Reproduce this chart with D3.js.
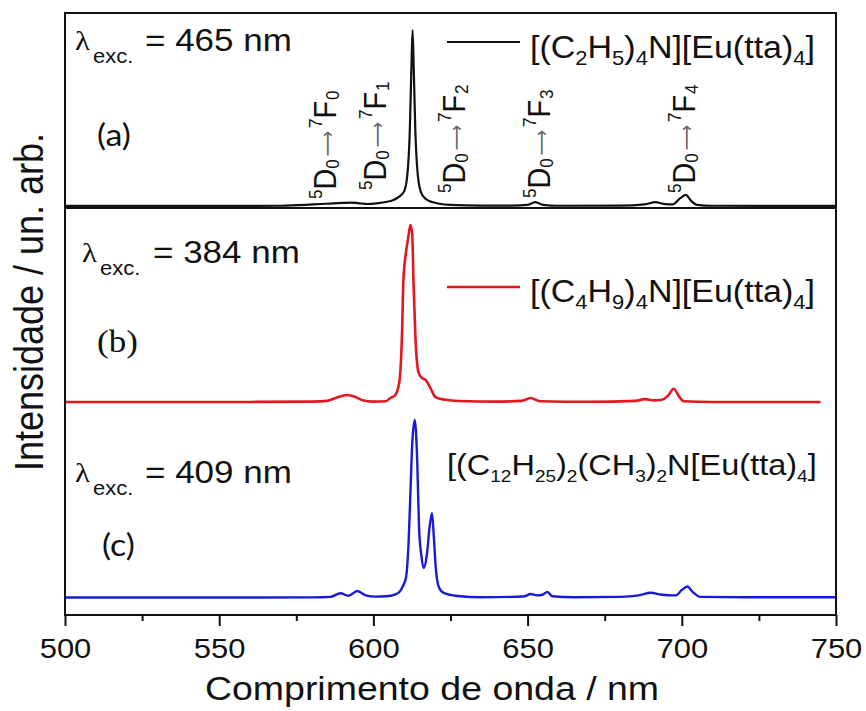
<!DOCTYPE html>
<html>
<head>
<meta charset="utf-8">
<script src="https://cdn.jsdelivr.net/npm/d3@7"></script>
<style>
  body { margin: 0; background: #fff; }
  svg text { font-family: "Liberation Sans", Arial, sans-serif; fill: #111; }
</style>
</head>
<body>
<svg id="chart" width="866" height="711"></svg>
<script>
// Emission spectra of three Eu(tta)4 complexes (normalised intensity vs wavelength)
const wlA  = [500,520,540,560,570,578,583,587,590,592.5,595,598,601,604,606.5,608.5,610,611,611.8,612.3,612.7,613.1,613.6,614.4,615.5,617,619,621,625,635,645,650,652.5,655,660,680,688,691.5,694,697,699.5,701.3,703,705,710,730,750];
const intA = [.006,.006,.006,.006,.007,.012,.017,.02,.023,.025,.022,.017,.02,.028,.04,.06,.09,.18,.43,.77,1.0,.77,.43,.18,.08,.045,.028,.02,.012,.008,.008,.012,.028,.012,.007,.008,.015,.028,.018,.015,.05,.068,.035,.012,.007,.006,.006];

const wlB  = [500,540,560,580,585,588,591.5,594,596.5,600,604,605.5,607.1,608.4,609.3,609.7,610.6,611.3,612.0,612.6,613.0,613.6,614.6,615.8,616.9,618.5,620.1,622,624,628,640,648,651,654,670,685,688,691,693.2,695.5,697.4,699,700.6,710,745];
const intB = [.006,.006,.006,.008,.012,.03,.045,.035,.015,.008,.01,.028,.045,.118,.40,.68,.85,.93,1.0,.944,.68,.38,.174,.14,.13,.084,.034,.022,.017,.011,.008,.012,.028,.01,.007,.012,.022,.015,.017,.04,.08,.04,.01,.006,.006];

const wlC  = [500,540,560,580,586,589.3,591.9,594.8,597.5,600.6,604,607,608.5,609.5,610.6,611.4,612.0,612.6,613.4,614.2,614.8,615.6,616.3,617.4,618.2,619.0,619.6,620.2,621.2,622.8,627.2,635,645,649,651,653,655,656.4,658,665,680,686,690,693,698,700,701.8,703.5,706,720,750];
const intC = [.008,.008,.008,.009,.012,.032,.018,.045,.02,.013,.015,.025,.04,.07,.123,.313,.59,.87,1.0,.777,.40,.235,.173,.257,.40,.48,.346,.179,.067,.034,.017,.01,.012,.015,.028,.02,.025,.04,.015,.01,.012,.02,.035,.025,.02,.05,.07,.04,.012,.01,.01];

const xTicks = [500, 550, 600, 650, 700, 750];
const xMinorTicks = [525, 575, 625, 675, 725];
const excitation = ["465", "384", "409"];
const panelTags = ["(a)", "(b)", "(c)"];
const transitions = ["0", "1", "2", "3", "4"];

const svg = d3.select("#chart");
const SQ = 0.9; // lettering is slightly compressed vertically

const x = d3.scaleLinear().domain([500, 750]).range([65, 836]);
const yA = d3.scaleLinear().domain([0, 1]).range([207, 30]);
const yB = d3.scaleLinear().domain([0, 1]).range([403, 225]);
const yC = d3.scaleLinear().domain([0, 1]).range([599, 420]);

// rich text helper: parts = [{t, size, shift, fill, family, dx}]
function rich(px, py, parts, o = {}) {
  const t = svg.append("text")
    .attr("transform", `translate(${px},${py}) scale(1,${SQ}) rotate(${o.rot || 0})`)
    .attr("font-size", o.size || 30)
    .attr("text-anchor", o.anchor || "start");
  if (o.family) t.style("font-family", o.family);
  let prev = 0;
  parts.forEach(p => {
    const s = p.shift || 0;
    const ts = t.append("tspan").attr("dy", s - prev).text(p.t);
    if (p.size) ts.attr("font-size", p.size);
    if (p.fill) ts.style("fill", p.fill);
    if (p.family) ts.style("font-family", p.family);
    if (p.dx) ts.attr("dx", p.dx);
    prev = s;
  });
  return t;
}

// spectra
const series = [
  { wl: wlA, v: intA, y: yA, color: "#111", w: 2.2 },
  { wl: wlB, v: intB, y: yB, color: "#e4161e", w: 2.6 },
  { wl: wlC, v: intC, y: yC, color: "#1a1ad6", w: 2.4 }
];
series.forEach(s => {
  const pts = s.wl.map((w, i) => [w, s.v[i]]);
  const line = d3.line().x(d => x(d[0])).y(d => s.y(d[1])).curve(d3.curveMonotoneX);
  svg.append("path").attr("d", line(pts))
    .attr("fill", "none").attr("stroke", s.color).attr("stroke-width", s.w)
    .attr("stroke-linejoin", "round");
});

// frame and panel divider
svg.append("rect").attr("x", 65).attr("y", 13).attr("width", 771).attr("height", 602)
  .attr("fill", "none").attr("stroke", "#111").attr("stroke-width", 2);
svg.append("line").attr("x1", 65).attr("x2", 836).attr("y1", 208).attr("y2", 208)
  .attr("stroke", "#111").attr("stroke-width", 2);

// x axis
const gx = svg.append("g").attr("transform", "translate(0,615)")
  .call(d3.axisBottom(x).tickValues(xTicks).tickSize(11).tickFormat(d3.format("d")));
gx.select(".domain").remove();
gx.selectAll("line").attr("stroke", "#111").attr("stroke-width", 2);
gx.selectAll("text").attr("y", null).attr("dy", null)
  .attr("transform", `translate(0,43) scale(1,${SQ})`)
  .attr("font-size", 31).attr("fill", "#111")
  .style("font-family", "'Liberation Sans', Arial, sans-serif");
const gm = svg.append("g").attr("transform", "translate(0,615)")
  .call(d3.axisBottom(x).tickValues(xMinorTicks).tickSize(6).tickFormat(""));
gm.select(".domain").remove();
gm.selectAll("line").attr("stroke", "#111").attr("stroke-width", 2);

// axis titles
rich(432, 700, [{ t: "Comprimento de onda / nm" }], { size: 37.5, anchor: "middle" });
rich(43, 302, [{ t: "Intensidade / un. arb." }], { size: 40, anchor: "middle", rot: -90 });

// excitation wavelengths
const excPos = [[75, 50, 145], [82, 262, 153], [75, 482, 145]];
excitation.forEach((e, i) => {
  const [lx, by, ex] = excPos[i];
  rich(lx, by, [{ t: "λ" }], { size: 31, family: "'Liberation Serif', serif" });
  rich(lx + 18, by + 13, [{ t: "exc." }], { size: 22 });
  rich(ex, by + 1, [{ t: `= ${e} nm` }], { size: 35 });
});

// panel tags
rich(97, 146, [{ t: panelTags[0] }], { size: 34, family: "Lato, sans-serif" });
rich(97, 352, [{ t: panelTags[1] }], { size: 35, family: "'Liberation Serif', serif" });
rich(102, 556, [{ t: panelTags[2] }], { size: 34, family: "Lato, sans-serif" });

// legends
const sub = (t, sz = 22) => ({ t, size: sz, shift: 8 });
const norm = (t) => ({ t, shift: 0 });
svg.append("line").attr("x1", 447).attr("x2", 520).attr("y1", 42).attr("y2", 42)
  .attr("stroke", "#111").attr("stroke-width", 2.2);
rich(530, 58, [norm("[(C"), sub("2"), norm("H"), sub("5"), norm(")"), sub("4"),
  norm("N][Eu(tta)"), sub("4"), norm("]")], { size: 34 });
svg.append("line").attr("x1", 447).attr("x2", 520).attr("y1", 287).attr("y2", 287)
  .attr("stroke", "#e4161e").attr("stroke-width", 2.6);
rich(530, 302, [norm("[(C"), sub("4"), norm("H"), sub("9"), norm(")"), sub("4"),
  norm("N][Eu(tta)"), sub("4"), norm("]")], { size: 34 });
rich(447, 475, [norm("[(C"), sub("12", 19), norm("H"), sub("25", 19), norm(")"), sub("2", 19),
  norm("(CH"), sub("3", 19), norm(")"), sub("2", 19), norm("N[Eu(tta)"), sub("4", 19), norm("]")],
  { size: 32.5 });

// 5D0 -> 7FJ transition labels
const transPos = [[336, 199], [386, 190], [465, 193], [550, 198], [695, 193]];
transitions.forEach((j, i) => {
  const [bx, by] = transPos[i];
  rich(bx, by, [
    { t: "5", size: 19, shift: -14 },
    { t: "D", shift: 0 },
    { t: "0", size: 19, shift: 3 },
    { t: "⟶", shift: -2, fill: "#666", family: "'DejaVu Sans', sans-serif", size: 20, dx: 3 },
    { t: "7", size: 19, shift: -14, dx: 3 },
    { t: "F", shift: 0 },
    { t: j, size: 19, shift: 3, dx: 1 }
  ], { size: 32, rot: -90 });
});
</script>
</body>
</html>
